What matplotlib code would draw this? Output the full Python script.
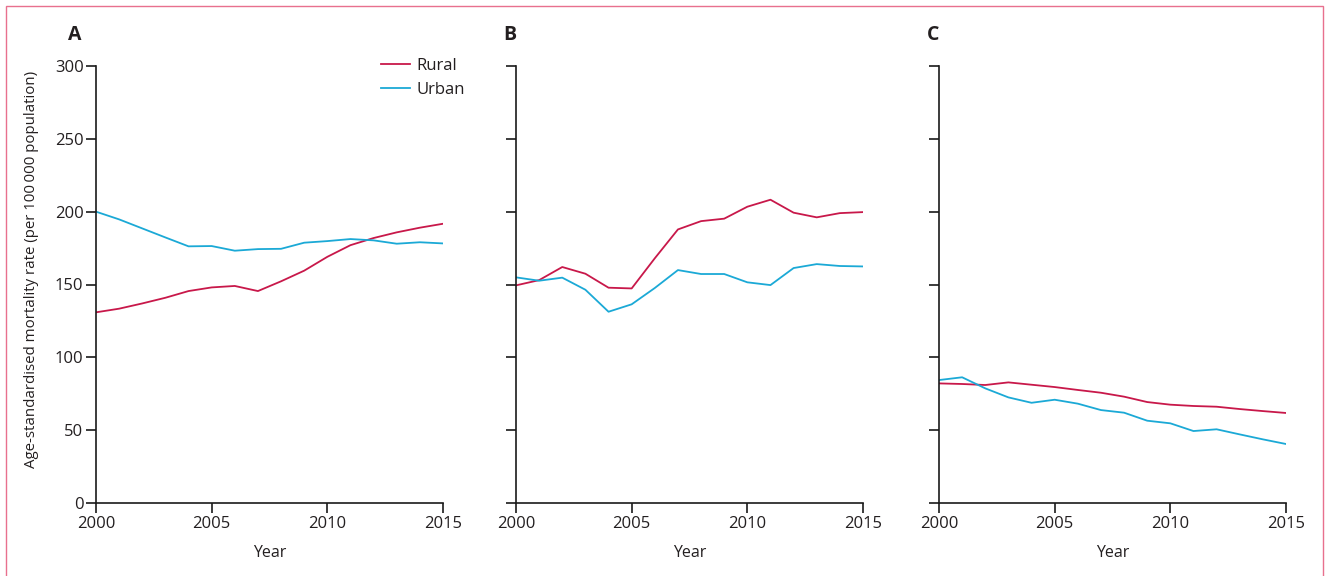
import matplotlib
matplotlib.use("Agg")
import matplotlib.pyplot as plt
from matplotlib.patches import Rectangle

plt.rcParams['font.family'] = ['Open Sans', 'DejaVu Sans']

years = list(range(2000, 2016))

# age-standardised mortality rate per 100 000, by panel
rural_a = [130.9, 133.4, 137.0, 140.9, 145.5, 148.0, 149.0, 145.5, 152.2, 159.5, 169.0, 177.0, 181.9, 185.8, 189.0, 191.7]
urban_a = [200.0, 194.7, 188.5, 182.3, 176.2, 176.4, 173.2, 174.3, 174.5, 178.7, 179.8, 181.2, 180.3, 178.0, 179.0, 178.2]
rural_b = [149.4, 153.0, 162.0, 157.4, 147.8, 147.3, 168.0, 187.8, 193.5, 195.2, 203.4, 208.2, 199.3, 196.1, 199.0, 199.7]
urban_b = [154.9, 152.6, 154.7, 146.4, 131.3, 136.4, 147.6, 159.9, 157.2, 157.2, 151.5, 149.6, 161.3, 164.0, 162.7, 162.4]
rural_c = [82.1, 81.7, 81.0, 82.8, 81.2, 79.6, 77.6, 75.7, 73.0, 69.3, 67.5, 66.6, 66.1, 64.5, 63.1, 61.8]
urban_c = [84.4, 86.3, 78.7, 72.5, 68.8, 70.9, 68.2, 63.8, 62.0, 56.5, 54.7, 49.4, 50.6, 47.1, 43.7, 40.5]

panels = ['A', 'B', 'C']
rural = [rural_a, rural_b, rural_c]
urban = [urban_a, urban_b, urban_c]

rural_col = '#c8184a'
urban_col = '#1ba9d6'
txt_col = '#231f20'

W, H = 1331, 576
fig = plt.figure(figsize=(W / 100, H / 100), dpi=100)

# thin pink frame round the figure
fig.patches.append(Rectangle((6 / W, -0.05), 1317 / W, 1.05 - 6 / H,
                             transform=fig.transFigure, fill=False,
                             edgecolor='#e8708e', linewidth=1.0))

lefts = [96, 516, 939]
letter_x = [68, 503, 927]
for i in range(3):
    ax = fig.add_axes([lefts[i] / W, 1 - 503 / H, 347 / W, 437 / H])
    ax.plot(years, rural[i], color=rural_col, lw=1.3, label='Rural')
    ax.plot(years, urban[i], color=urban_col, lw=1.3, label='Urban')
    ax.set_xlim(2000, 2015)
    ax.set_ylim(0, 300)
    ax.set_xticks([2000, 2005, 2010, 2015])
    ax.set_yticks(range(0, 301, 50))
    ax.spines['top'].set_visible(False)
    ax.spines['right'].set_visible(False)
    for s in ['left', 'bottom']:
        ax.spines[s].set_linewidth(1.2)
        ax.spines[s].set_color('#1a1a1a')
    ax.tick_params(direction='out', length=7, width=1.2, color='#1a1a1a',
                   labelsize=12, labelcolor=txt_col, pad=2)
    ax.set_xlabel('Year', fontsize=11.5, color=txt_col, labelpad=10)
    if i == 0:
        ax.legend(loc='upper left', bbox_to_anchor=(381 / W, 1 - 58 / H),
                  bbox_transform=fig.transFigure, frameon=False,
                  borderpad=0, borderaxespad=0,
                  fontsize=12, handlelength=1.75, handletextpad=0.4,
                  labelspacing=0.45, labelcolor=txt_col)
    else:
        ax.set_yticklabels([])
    fig.text(letter_x[i] / W, 1 - 35 / H, panels[i], fontsize=14,
             fontweight='bold', color=txt_col, va='center', ha='left')

fig.text(32 / W, 1 - 269 / H,
         'Age-standardised mortality rate (per 100\u2009000 population)',
         rotation=90, fontsize=10.8, color=txt_col, ha='center', va='center')

fig.savefig('out.png', dpi=100)
